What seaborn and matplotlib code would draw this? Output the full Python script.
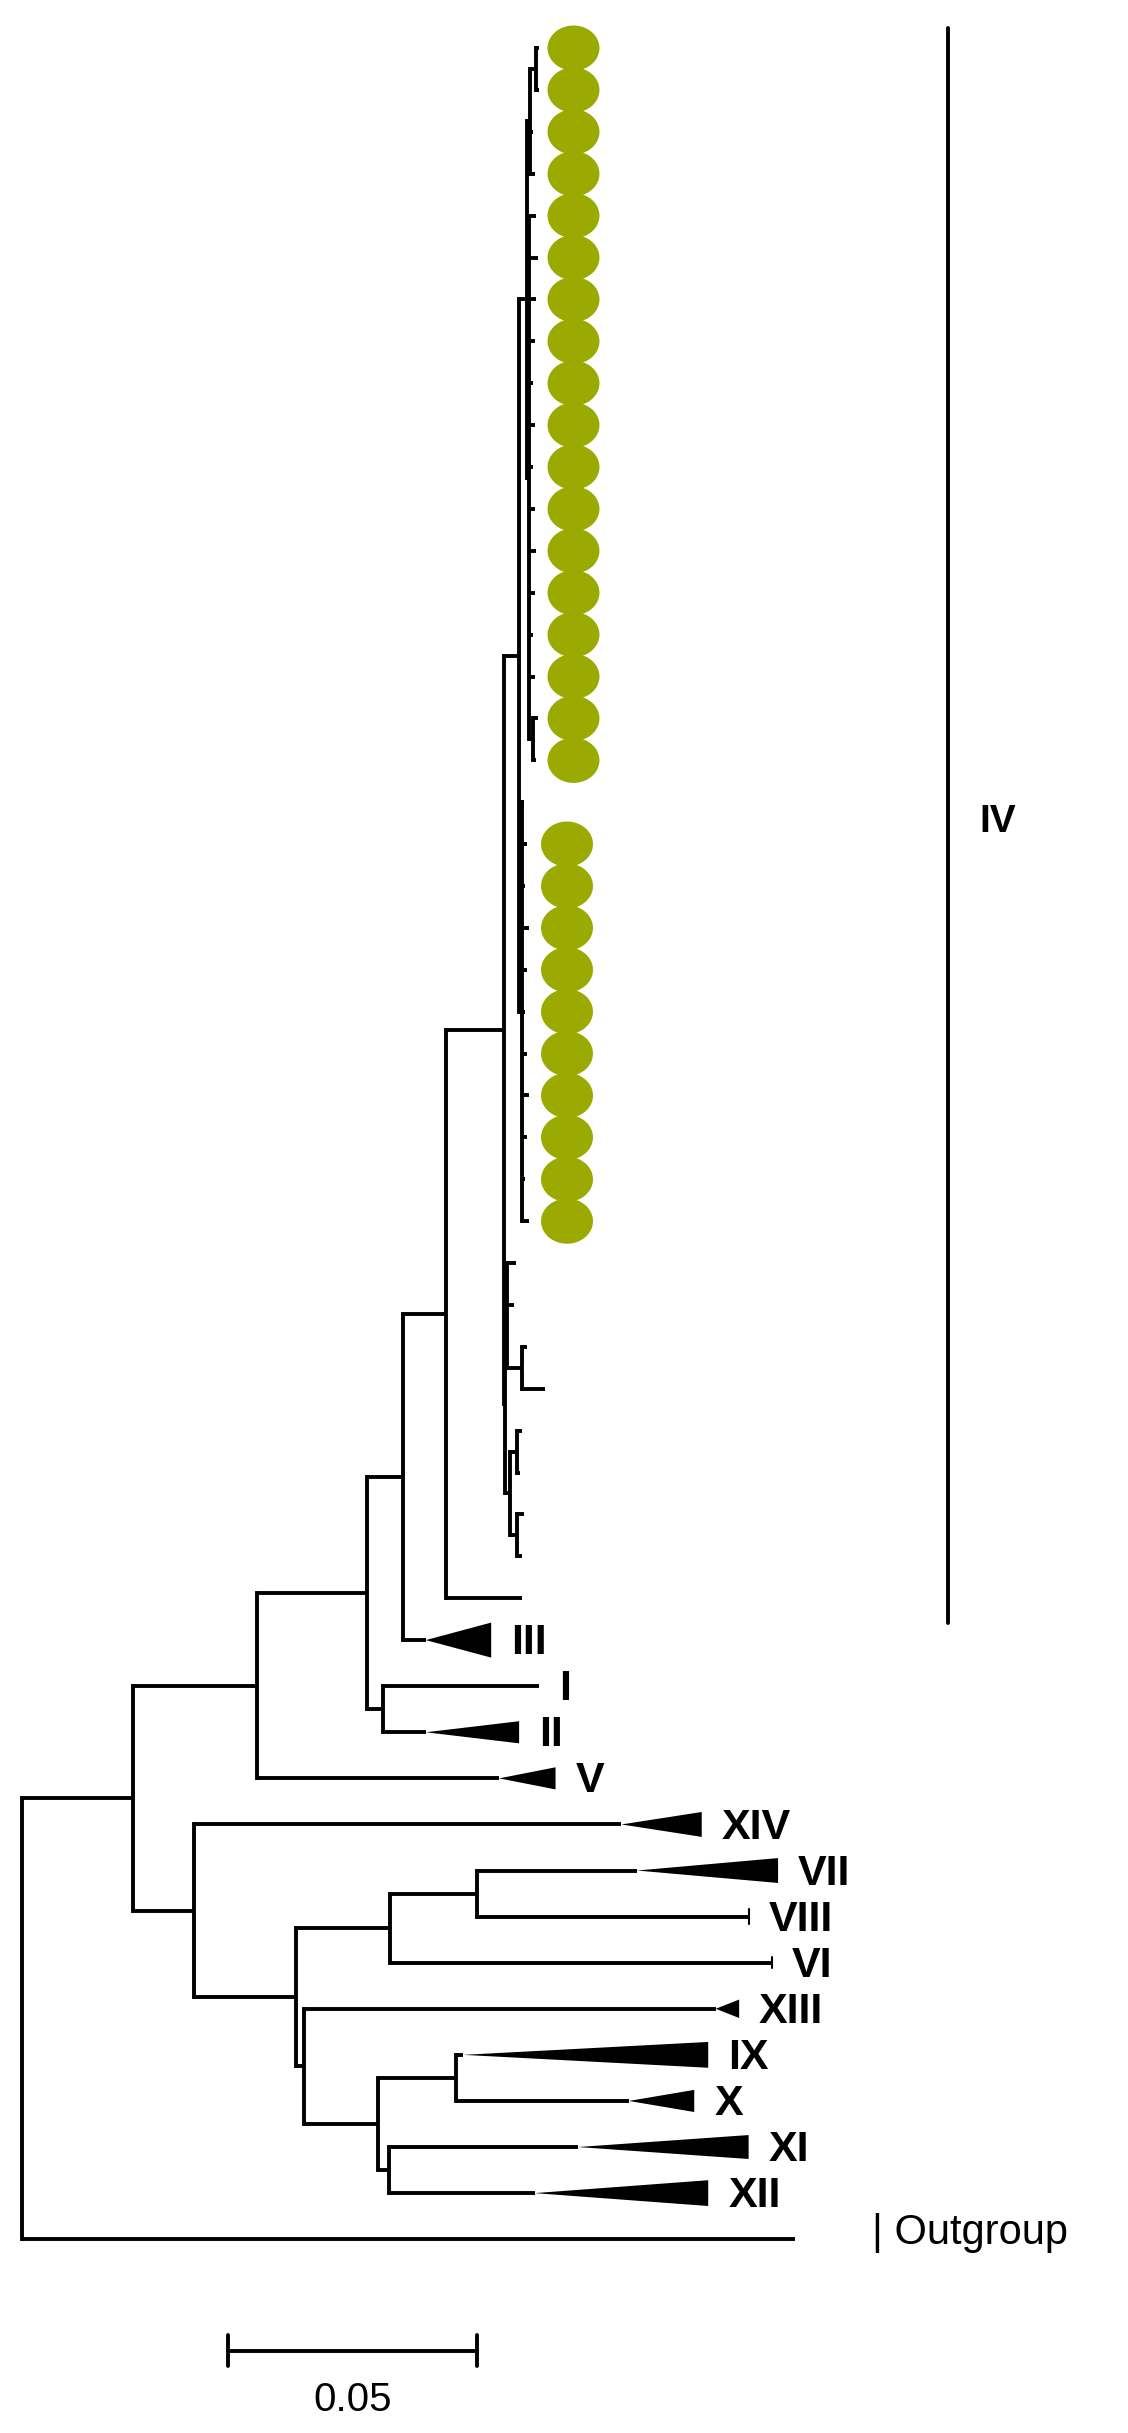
import matplotlib
matplotlib.use("Agg")
import matplotlib.pyplot as plt
import numpy as np
import pandas as pd
import seaborn as sns

sns.set_theme(style="white")
plt.rcParams["font.family"] = ["Liberation Sans", "DejaVu Sans"]
plt.rcParams["text.color"] = "black"

# === collapsed clades: name, apex depth, tip depth, half height (rows) ===
clade_names = ["III", "II", "V", "XIV", "VII", "VIII", "VI", "XIII", "IX", "X", "XI", "XII"]
clade_start = [0.0810, 0.0810, 0.0957, 0.1202, 0.1233, 0.1457, 0.1503, 0.1391, 0.0885, 0.1217, 0.1115, 0.1028]
clade_tip = [0.0941, 0.0997, 0.1070, 0.1363, 0.1516, 0.1457, 0.1503, 0.1438, 0.1376, 0.1348, 0.1457, 0.1376]
clade_half = [0.38, 0.24, 0.24, 0.27, 0.27, 0.16, 0.12, 0.2, 0.28, 0.24, 0.26, 0.28]
clades = {n: (s, t, h) for n, s, t, h in zip(clade_names, clade_start, clade_tip, clade_half)}

# === genotype IV crown (node depth, children); plain floats are tips ===
iv_top = (0.1012, [(0.1019, [(0.1031, [0.1037, 0.1037]), 0.1025, 0.1028]),
                   (0.1016, [0.1031, 0.1034, 0.1031, 0.1028, 0.1025, 0.1028, 0.1025,
                             0.1028, 0.1031, 0.1028, 0.1025, 0.1028, (0.1025, [0.1034, 0.1031])])])
iv_mid = (0.1003, [0.1006, 0.1012, 0.1009, 0.1016, 0.1012, 0.1009, 0.1012, 0.1016, 0.1012, 0.1009, 0.1016])
iv_low = (0.0969, [(0.0972, [0.0990, 0.0987, (0.1003, [0.1012, 0.1049])]),
                   (0.0978, [(0.0993, [0.1003, 0.0999]), (0.0993, [0.1006, 0.1003])])])
iv_crown = (0.0966, [(0.0997, [iv_top, iv_mid]), iv_low])

tree = (0.0, [
    (0.0224, [
        (0.0472, [
            (0.0693, [
                (0.0764, [(0.0851, [iv_crown, 0.1003]), "III"]),
                (0.0724, [("I", 0.1037), "II"]),
            ]),
            "V",
        ]),
        (0.0345, [
            "XIV",
            (0.0550, [
                (0.0739, [(0.0913, ["VII", "VIII"]), "VI"]),
                (0.0565, ["XIII", (0.0714, [(0.0870, ["IX", "X"]), (0.0736, ["XI", "XII"])])]),
            ]),
        ]),
    ]),
    ("Outgroup", 0.1550),
])

# green markers sit on these tip rows of clade IV
dot_rows_top = list(range(0, 18))
dot_rows_low = list(range(19, 29))

scale_len = 0.05
px_per_unit = 3220.0
lw = 2.8
label_size = 31

fig = plt.figure(figsize=(11.28, 24.33), dpi=100)
ax = fig.add_axes([0, 0, 1, 1])
ax.set_xlim(-14 / px_per_unit, 714 / px_per_unit)
ax.set_ylim(1568, 0)
ax.axis("off")

state = {"y": 31.0}
tip_y = []


def next_y(crown):
    y = state["y"]
    tip_y.append(y)
    state["y"] += 27.0 if crown else 29.7
    return y


def draw(node, parent_x, crown=False):
    if isinstance(node, float):
        y = next_y(True)
        ax.plot([parent_x, node], [y, y], color="black", lw=lw, solid_capstyle="butt")
        return y
    if isinstance(node, str):
        y = next_y(False)
        s, t, h = clades[node]
        ax.plot([parent_x, s], [y, y], color="black", lw=lw, solid_capstyle="butt")
        hh = h * 29.7
        if t - s > 1e-4:
            ax.fill([s, t, t], [y, y - hh, y + hh], color="black", lw=0)
        else:
            ax.plot([t, t], [y - hh, y + hh], color="black", lw=1.5)
        ax.text(t + 0.004, y + 2, node, fontsize=label_size, fontweight="bold", va="center", ha="left")
        return y
    if isinstance(node[0], str):
        name, depth = node
        y = next_y(False)
        ax.plot([parent_x, depth], [y, y], color="black", lw=lw, solid_capstyle="butt")
        if name == "Outgroup":
            ax.text(depth + 0.0155, y - 4, "| Outgroup", fontsize=30, va="center", ha="left")
        else:
            ax.text(depth + 0.004, y + 2, name, fontsize=label_size, fontweight="bold", va="center", ha="left")
        return y
    depth, children = node
    is_crown = crown or node is iv_crown
    ys = [draw(c, depth, is_crown) for c in children]
    ax.plot([depth, depth], [min(ys), max(ys)], color="black", lw=lw, solid_capstyle="projecting")
    y = (min(ys) + max(ys)) / 2
    if parent_x is not None:
        ax.plot([parent_x, depth], [y, y], color="black", lw=lw, solid_capstyle="butt")
    return y


draw(tree, None)

# green markers
theta = np.linspace(0, 2 * np.pi, 60)
ellipse = np.column_stack([1.15 * np.cos(theta), np.sin(theta)])
dots = pd.DataFrame({
    "x": [0.1106] * len(dot_rows_top) + [0.1093] * len(dot_rows_low),
    "y": [tip_y[r] for r in dot_rows_top + dot_rows_low],
})
sns.scatterplot(data=dots, x="x", y="y", ax=ax, marker=ellipse, s=1400,
                color="#9aaa00", edgecolor="none", legend=False, zorder=3)

# genotype IV bracket
ax.plot([0.1857, 0.1857], [18, 1046], color="black", lw=lw)
ax.text(0.1919, 530, "IV", fontsize=28, fontweight="bold", va="center", ha="left")

# scale bar
x0 = (147 - 14) / px_per_unit
ax.plot([x0, x0 + scale_len], [1515, 1515], color="black", lw=lw)
for xx in [x0, x0 + scale_len]:
    ax.plot([xx, xx], [1505, 1525], color="black", lw=lw)
ax.text(x0 + scale_len / 2, 1547, f"{scale_len:.2f}", fontsize=29, ha="center", va="center")

fig.savefig("out.png", dpi=100)
